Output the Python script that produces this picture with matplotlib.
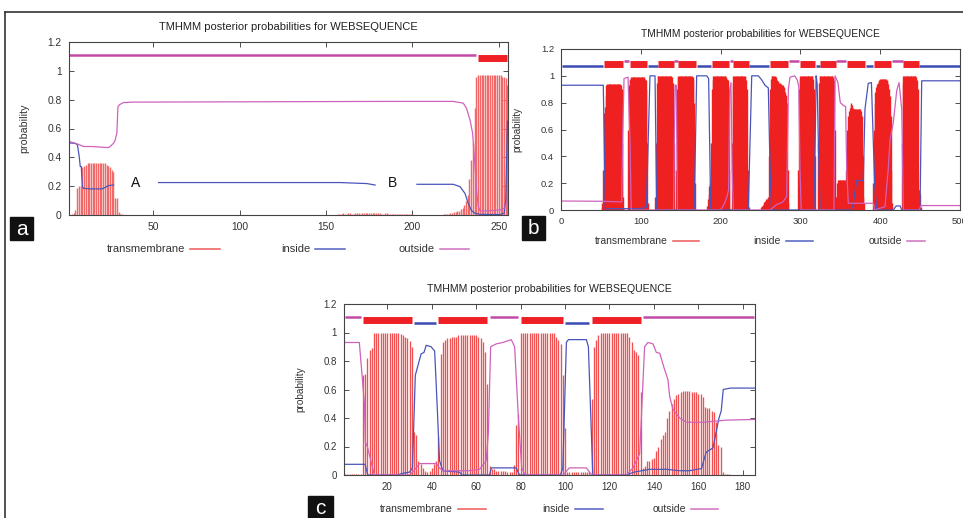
import numpy as np
import matplotlib.pyplot as plt
from matplotlib.lines import Line2D

plt.rcParams['font.family'] = ['Liberation Sans', 'DejaVu Sans']

W, H = 963, 518

# ---------------- panel a : 255 residues ----------------
a_topo = [(1, 237, 'out'), (238, 255, 'tm')]
a_tm_start = [3, 157, 217]
a_tm_heights = [
    [0.005, 0.012, 0.035, 0.19, 0.2, 0.2, 0.33, 0.34, 0.35, 0.36, 0.36, 0.36, 0.36,
     0.36, 0.36, 0.36, 0.36, 0.36, 0.36, 0.36, 0.35, 0.34, 0.33, 0.31, 0.3, 0.12,
     0.12, 0.02, 0.01, 0.005],
    [0.008, 0.01, 0.01, 0.012, 0.01, 0.01, 0.012, 0.012, 0.01, 0.01, 0.012, 0.012,
     0.012, 0.01, 0.012, 0.012, 0.014, 0.014, 0.012, 0.012, 0.012, 0.014, 0.014, 0.012,
     0.012, 0.01, 0.01, 0.012, 0.012, 0.01, 0.01, 0.01, 0.01, 0.01, 0.01, 0.008,
     0.008, 0.008, 0.008, 0.008, 0.006, 0.006, 0.005, 0.004],
    [0.003, 0.005, 0.006, 0.008, 0.01, 0.012, 0.015, 0.018, 0.02, 0.025, 0.03, 0.04,
     0.05, 0.07, 0.1, 0.14, 0.25, 0.38, 0.5, 0.74, 0.96, 0.97, 0.97, 0.97, 0.97,
     0.97, 0.97, 0.97, 0.97, 0.97, 0.97, 0.97, 0.97, 0.97, 0.97, 0.96, 0.96, 0.95, 0.9],
]
a_in_x = [1, 4.9, 6.2, 7.2, 7.8, 8.4, 9.0, 9.7, 13.6, 20.4, 22.3, 24.2, 27.1, np.nan,
          53.1, 158.2, 173.6, 178.4, np.nan, 202.6, 223.6, 227.5, 230.4, 232.3, 234.2,
          236.2, 239, 250, 253, 254, 255]
a_in_y = [0.5, 0.497, 0.486, 0.405, 0.336, 0.336, 0.197, 0.185, 0.181, 0.181, 0.192,
          0.204, 0.208, np.nan, 0.225, 0.225, 0.218, 0.208, np.nan, 0.213, 0.213, 0.197,
          0.15, 0.08, 0.03, 0.012, 0.005, 0.003, 0.01, 0.1, 0.65]
a_out_x = [1, 2.9, 6.8, 9.7, 14.5, 23.2, 24.2, 25.1, 27.1, 28.0, 29.0, 29.6, 30.5, 32.8,
           38.6, 187, 223.6, 229.4, 231.3, 233.3, 234.8, 236.2, 237.1, 238.1, 239.1,
           241, 244.9, 250.7, 253.6, 255]
a_out_y = [0.51, 0.505, 0.49, 0.475, 0.475, 0.468, 0.468, 0.475, 0.498, 0.52, 0.57, 0.75,
           0.765, 0.78, 0.783, 0.788, 0.788, 0.776, 0.74, 0.66, 0.57, 0.34, 0.17, 0.06,
           0.03, 0.028, 0.03, 0.035, 0.05, 0.1]

# ---------------- panel b : 500 residues ----------------
b_topo = [(1, 53, 'in'), (54, 78, 'tm'), (79, 85, 'out'), (86, 108, 'tm'), (109, 121, 'in'),
          (122, 141, 'tm'), (142, 146, 'out'), (147, 169, 'tm'), (170, 188, 'in'),
          (189, 211, 'tm'), (212, 215, 'out'), (216, 235, 'tm'), (236, 261, 'in'),
          (262, 285, 'tm'), (286, 298, 'out'), (299, 318, 'tm'), (319, 324, 'in'),
          (325, 344, 'tm'), (345, 357, 'out'), (358, 381, 'tm'), (382, 391, 'in'),
          (392, 414, 'tm'), (415, 428, 'out'), (429, 448, 'tm'), (449, 500, 'in')]
b_tm_start = [51, 84, 118, 144, 183, 214, 250, 297, 322, 345, 391, 427]
b_tm_heights = [
    [0.02, 0.05, 0.3, 0.72, 0.77, 0.85, 0.93, 0.94, 0.94, 0.94, 0.94, 0.94, 0.94, 0.94,
     0.94, 0.94, 0.94, 0.94, 0.94, 0.94, 0.94, 0.94, 0.94, 0.94, 0.93, 0.9, 0.5, 0.1, 0.01],
    [0.6, 0.93, 0.97, 0.98, 0.99, 0.99, 0.99, 0.99, 0.99, 0.99, 0.99, 0.99, 0.99, 0.99,
     0.99, 0.99, 0.99, 0.99, 0.99, 0.99, 0.99, 0.98, 0.97, 0.9, 0.5, 0.05],
    [0.1, 0.5, 0.95, 1.0, 1.0, 1.0, 1.0, 1.0, 1.0, 1.0, 1.0, 1.0, 1.0, 1.0, 1.0, 1.0,
     1.0, 1.0, 1.0, 1.0, 1.0, 0.99, 0.95, 0.5],
    [0.3, 0.9, 0.99, 1.0, 1.0, 1.0, 1.0, 1.0, 1.0, 1.0, 1.0, 1.0, 1.0, 1.0, 1.0, 1.0,
     1.0, 1.0, 1.0, 1.0, 1.0, 0.99, 0.97, 0.8, 0.2],
    [0.03, 0.08, 0.12, 0.18, 0.2, 0.5, 0.9, 0.97, 1.0, 1.0, 1.0, 1.0, 1.0, 1.0, 1.0,
     1.0, 1.0, 1.0, 1.0, 1.0, 1.0, 1.0, 1.0, 1.0, 0.99, 0.98, 0.97, 0.9, 0.3],
    [0.5, 0.95, 1.0, 1.0, 1.0, 1.0, 1.0, 1.0, 1.0, 1.0, 1.0, 1.0, 1.0, 1.0, 1.0, 1.0,
     1.0, 0.99, 0.97, 0.9, 0.3, 0.02],
    [0.01, 0.02, 0.03, 0.04, 0.05, 0.06, 0.07, 0.08, 0.08, 0.09, 0.1, 0.4, 0.9, 0.98,
     1.0, 1.0, 1.0, 1.0, 1.0, 0.99, 0.98, 0.97, 0.96, 0.95, 0.95, 0.94, 0.94, 0.93,
     0.93, 0.92, 0.9, 0.88, 0.86, 0.8, 0.3, 0.05],
    [0.3, 0.9, 0.98, 1.0, 1.0, 1.0, 1.0, 1.0, 1.0, 1.0, 1.0, 1.0, 1.0, 1.0, 1.0, 1.0,
     1.0, 1.0, 1.0, 0.98, 0.9, 0.4],
    [0.5, 0.95, 1.0, 1.0, 1.0, 1.0, 1.0, 1.0, 1.0, 1.0, 1.0, 1.0, 1.0, 1.0, 1.0, 1.0,
     1.0, 1.0, 1.0, 0.99, 0.97, 0.6, 0.1],
    [0.1, 0.2, 0.22, 0.22, 0.22, 0.22, 0.22, 0.22, 0.22, 0.22, 0.22, 0.22, 0.3, 0.45,
     0.6, 0.7, 0.74, 0.76, 0.78, 0.8, 0.78, 0.76, 0.75, 0.75, 0.75, 0.75, 0.75, 0.75,
     0.75, 0.75, 0.75, 0.74, 0.7, 0.4, 0.1, 0.05],
    [0.2, 0.6, 0.8, 0.88, 0.92, 0.94, 0.95, 0.96, 0.97, 0.98, 0.98, 0.98, 0.98, 0.98,
     0.98, 0.98, 0.98, 0.97, 0.96, 0.94, 0.9, 0.85, 0.7, 0.3, 0.05],
    [0.5, 0.95, 1.0, 1.0, 1.0, 1.0, 1.0, 1.0, 1.0, 1.0, 1.0, 1.0, 1.0, 1.0, 1.0, 1.0,
     1.0, 1.0, 0.99, 0.97, 0.9, 0.15, 0.15, 0.12, 0.02],
]
b_in_x = [1, 53, 55.5, 99, 107, 111.5, 117.8, 120, 167, 170, 182.6, 185, 187.6, 234.7,
          239, 247.3, 251.5, 255.6, 259.8, 262, 263.8, 317, 318.5, 319.7, 321, 322.5,
          324.6, 364, 366, 370.5, 378.8, 380.9, 385, 389, 391.4, 393, 395.6, 416.4, 420,
          425, 427, 449.9, 452, 500]
b_in_y = [0.93, 0.93, 0.01, 0.01, 0.02, 1.0, 1.0, 0.0, 0.0, 1.0, 1.0, 0.98, 0.0, 0.0,
          1.0, 1.0, 0.97, 0.93, 0.91, 0.3, 0.0, 0.0, 0.5, 1.0, 0.94, 0.5, 0.0, 0.0, 0.04,
          0.22, 0.22, 0.75, 0.944, 0.95, 0.5, 0.2, 0.0, 0.0, 0.03, 0.03, 0.0, 0.0, 0.963,
          0.963]
b_out_x = [1, 51, 76, 77.5, 79, 84, 86.5, 88, 141, 142, 143, 144.5, 146, 200, 205, 208,
           210, 211.5, 213, 214.5, 216, 262, 270, 278, 282.8, 284.9, 287, 293, 296, 298,
           299.5, 301, 342, 343.4, 347, 350, 353.8, 356.7, 358, 360, 391.4, 393, 406,
           410, 412.3, 416.4, 420.7, 423.6, 427, 429, 449, 451, 500]
b_out_y = [0.067, 0.065, 0.06, 0.6, 0.98, 0.99, 0.5, 0.0, 0.0, 0.5, 0.93, 0.93, 0.0, 0.0,
           0.05, 0.1, 0.15, 0.9, 0.95, 0.3, 0.0, 0.0, 0.04, 0.06, 0.1, 0.9, 0.99, 1.0,
           0.97, 0.92, 0.3, 0.0, 0.0, 1.0, 0.95, 0.8, 0.78, 0.77, 0.3, 0.05, 0.05, 0.0,
           0.025, 0.3, 0.52, 0.65, 0.89, 0.95, 0.75, 0.0, 0.0, 0.033, 0.033]

# ---------------- panel c : 185 residues ----------------
c_topo = [(1, 8, 'out'), (9, 31, 'tm'), (32, 42, 'in'), (43, 65, 'tm'), (66, 79, 'out'),
          (80, 99, 'tm'), (100, 111, 'in'), (112, 134, 'tm'), (135, 185, 'out')]
c_tm_start = [1]
c_tm_heights = [
    [0.005, 0.005, 0.005, 0.005, 0.005, 0.005, 0.005, 0.005,
     0.7, 0.71, 0.82, 0.88, 0.89, 1.0, 1.0, 1.0, 1.0, 1.0, 1.0, 1.0, 1.0, 1.0, 1.0, 1.0,
     1.0, 0.99, 0.98, 0.97, 0.96, 0.94, 0.9, 0.3, 0.28, 0.1, 0.08, 0.05, 0.03, 0.02,
     0.03, 0.05, 0.08, 0.1, 0.27, 0.85, 0.93, 0.95, 0.96, 0.96, 0.97, 0.97, 0.97, 0.98,
     0.98, 0.98, 0.98, 0.98, 0.98, 0.98, 0.98, 0.98, 0.97, 0.96, 0.93, 0.86, 0.64, 0.06,
     0.04, 0.04, 0.03, 0.03, 0.03, 0.03, 0.03, 0.02, 0.02, 0.02, 0.07, 0.35, 0.43, 1.0,
     1.0, 1.0, 1.0, 1.0, 1.0, 1.0, 1.0, 1.0, 1.0, 1.0, 1.0, 1.0, 1.0, 1.0, 1.0, 0.97,
     0.95, 0.92, 0.7, 0.33, 0.02, 0.02, 0.02, 0.02, 0.02, 0.02, 0.02, 0.02, 0.02, 0.02,
     0.02, 0.53, 0.9, 0.95, 0.98, 1.0, 1.0, 1.0, 1.0, 1.0, 1.0, 1.0, 1.0, 1.0, 1.0, 1.0,
     1.0, 1.0, 0.97, 0.93, 0.88, 0.86, 0.84, 0.58, 0.05, 0.06, 0.1, 0.1, 0.11, 0.12,
     0.17, 0.2, 0.25, 0.28, 0.3, 0.4, 0.45, 0.5, 0.53, 0.56, 0.57, 0.58, 0.59, 0.59,
     0.59, 0.59, 0.58, 0.58, 0.58, 0.57, 0.57, 0.55, 0.48, 0.47, 0.47, 0.45, 0.44, 0.37,
     0.21, 0.2, 0.02, 0.01, 0.01, 0.005, 0.003],
]
c_in_x = [1, 10, 11.2, 24, 28, 30, 31.3, 32.6, 35.2, 36.5, 37.5, 39.7, 41.3, 42.4, 43.5,
          45, 52.5, 53.5, 66, 66.8, 78, 79.5, 97.9, 99, 100.6, 101.5, 109.6, 110.5, 112.5,
          127.6, 131, 138, 145.5, 151.6, 156, 161.4, 163.5, 166.6, 168, 169.3, 170.3,
          171.2, 174.5, 185.5]
c_in_y = [0.075, 0.075, 0.0, 0.0, 0.015, 0.02, 0.05, 0.7, 0.85, 0.86, 0.91, 0.9, 0.87,
          0.5, 0.1, 0.03, 0.02, 0.0, 0.0, 0.05, 0.05, 0.0, 0.0, 0.05, 0.93, 0.95, 0.95,
          0.9, 0.0, 0.0, 0.02, 0.04, 0.04, 0.03, 0.03, 0.045, 0.16, 0.19, 0.3, 0.4, 0.45,
          0.6, 0.61, 0.61]
c_out_x = [1, 7.4, 9.7, 10.1, 11, 14.2, 30, 32, 34.5, 42, 43.5, 45, 57, 61.5, 64.5, 65.5,
           66.5, 69, 72, 75.8, 77.3, 79, 80.5, 82, 99.2, 101.9, 109.6, 112, 127.6, 130.6,
           133.6, 135.8, 137.3, 139.6, 141.1, 142.6, 144.8, 146.3, 147.1, 148.6, 151.6,
           154.6, 162.1, 172.6, 185.5]
c_out_y = [0.93, 0.93, 0.5, 0.23, 0.2, 0.0, 0.0, 0.03, 0.08, 0.08, 0.05, 0.03, 0.03, 0.04,
           0.1, 0.3, 0.9, 0.92, 0.93, 0.95, 0.9, 0.4, 0.05, 0.0, 0.0, 0.05, 0.05, 0.0, 0.0,
           0.05, 0.15, 0.9, 0.93, 0.92, 0.86, 0.855, 0.74, 0.67, 0.55, 0.46, 0.40, 0.37,
           0.37, 0.385, 0.39]

TITLE = "TMHMM posterior probabilities for WEBSEQUENCE"
C_IN, C_OUT = '#4a55bb', '#cf62bd'
C_IN_TOP, C_OUT_TOP = '#3a4cb4', '#c24aa6'


def fx(x):
    return x / W


def fy(y):
    return 1 - y / H


def draw_panel(rect, xlim, xticks, topo, tm_start, tm_heights, in_x, in_y, out_x, out_y,
               fs, tm_color, tm_lw):
    x0, y0, x1, y1 = rect
    ax = fig.add_axes([fx(x0), fy(y1), (x1 - x0) / W, (y1 - y0) / H])
    # topology on top
    for s, e, kind in topo:
        if kind == 'tm':
            ax.plot([s, e], [1.09, 1.09], color='#ee2026', lw=5, solid_capstyle='butt')
        elif kind == 'in':
            ax.plot([s, e], [1.07, 1.07], color=C_IN_TOP, lw=1.8, solid_capstyle='butt')
        else:
            ax.plot([s, e], [1.11, 1.11], color=C_OUT_TOP, lw=1.8, solid_capstyle='butt')
    # transmembrane impulses
    for s, hs in zip(tm_start, tm_heights):
        xs = np.arange(s, s + len(hs))
        ax.vlines(xs, 0, hs, color=tm_color, lw=tm_lw)
    ax.plot(in_x, in_y, color=C_IN, lw=0.9)
    ax.plot(out_x, out_y, color=C_OUT, lw=0.9)
    ax.set_xlim(*xlim)
    ax.set_ylim(0, 1.2)
    ax.set_xticks(xticks)
    ax.set_yticks([0, 0.2, 0.4, 0.6, 0.8, 1.0, 1.2])
    ax.set_yticklabels(['0', '0.2', '0.4', '0.6', '0.8', '1', '1.2'])
    ax.tick_params(direction='in', length=3.5, width=0.6, top=True, right=True,
                   labelsize=fs - 0.6, colors='#333333', pad=5)
    for sp in ax.spines.values():
        sp.set_color('#444444')
        sp.set_linewidth(0.8)
    fig.text(fx((x0 + x1) / 2), fy(y0 - 15), TITLE, fontsize=fs, ha='center',
             va='center', color='#222222')
    fig.text(fx(x0 - 44), fy((y0 + y1) / 2), 'probability', fontsize=fs - 0.3,
             rotation=90, ha='center', va='center', color='#333333')
    return ax


def draw_key(ytop, items, fs):
    # items: (label, text_right_x, line_x0, line_x1, color)
    for label, tx, lx0, lx1, col in items:
        fig.text(fx(tx), fy(ytop), label, fontsize=fs, ha='right', va='center',
                 color='#333333')
        fig.add_artist(Line2D([fx(lx0), fx(lx1)], [fy(ytop), fy(ytop)], color=col,
                              lw=1.1, transform=fig.transFigure))


def panel_tag(x0, y0, x1, y1, letter):
    fig.patches.append(plt.Rectangle((fx(x0), fy(y1)), (x1 - x0) / W, (y1 - y0) / H,
                                     transform=fig.transFigure, color='#111111'))
    fig.text(fx((x0 + x1) / 2), fy((y0 + y1) / 2 + 1), letter, fontsize=15,
             color='white', ha='center', va='center')


fig = plt.figure(figsize=(W / 100, H / 100), dpi=100)

# outer frame
fig.add_artist(Line2D([fx(5), fx(963)], [fy(12), fy(12)], color='#333333', lw=1.2,
                      transform=fig.transFigure))
fig.add_artist(Line2D([fx(5), fx(5)], [fy(12), fy(518)], color='#333333', lw=1.2,
                      transform=fig.transFigure))

ax_a = draw_panel((68.5, 42, 508, 215), (1, 255.3), [50, 100, 150, 200, 250], a_topo,
                  a_tm_start, a_tm_heights, a_in_x, a_in_y, a_out_x, a_out_y, 8,
                  '#f26868', 1.05)
ax_a.text(40, 0.224, 'A', fontsize=10, ha='center', va='center', color='#111111')
ax_a.text(188.3, 0.22, 'B', fontsize=10, ha='center', va='center', color='#111111')

draw_panel((561, 49, 960, 210), (0, 500), [0, 100, 200, 300, 400, 500], b_topo,
           b_tm_start, b_tm_heights, b_in_x, b_in_y, b_out_x, b_out_y, 7.4,
           '#ee2020', 1.0)

draw_panel((344, 304, 755, 475), (0.5, 185.5), [20, 40, 60, 80, 100, 120, 140, 160, 180],
           c_topo, c_tm_start, c_tm_heights, c_in_x, c_in_y, c_out_x, c_out_y, 7.6,
           '#f05050', 0.95)

draw_key(249, [('transmembrane', 185, 190, 220, '#ee5a5a'),
               ('inside', 310, 315, 345, '#5060c0'),
               ('outside', 435, 440, 469, '#d070c0')], 8)
draw_key(241, [('transmembrane', 668, 673, 699, '#ee5a5a'),
               ('inside', 781, 786, 813, '#5060c0'),
               ('outside', 902, 907, 925, '#d070c0')], 7.5)
draw_key(509, [('transmembrane', 453, 458, 486, '#ee5a5a'),
               ('inside', 570, 575, 603, '#5060c0'),
               ('outside', 686, 691, 718, '#d070c0')], 7.5)

panel_tag(10, 217, 33, 240, 'a')
panel_tag(522, 216, 545, 240, 'b')
panel_tag(308, 496, 333, 520, 'c')

fig.savefig('out.png', dpi=100)
